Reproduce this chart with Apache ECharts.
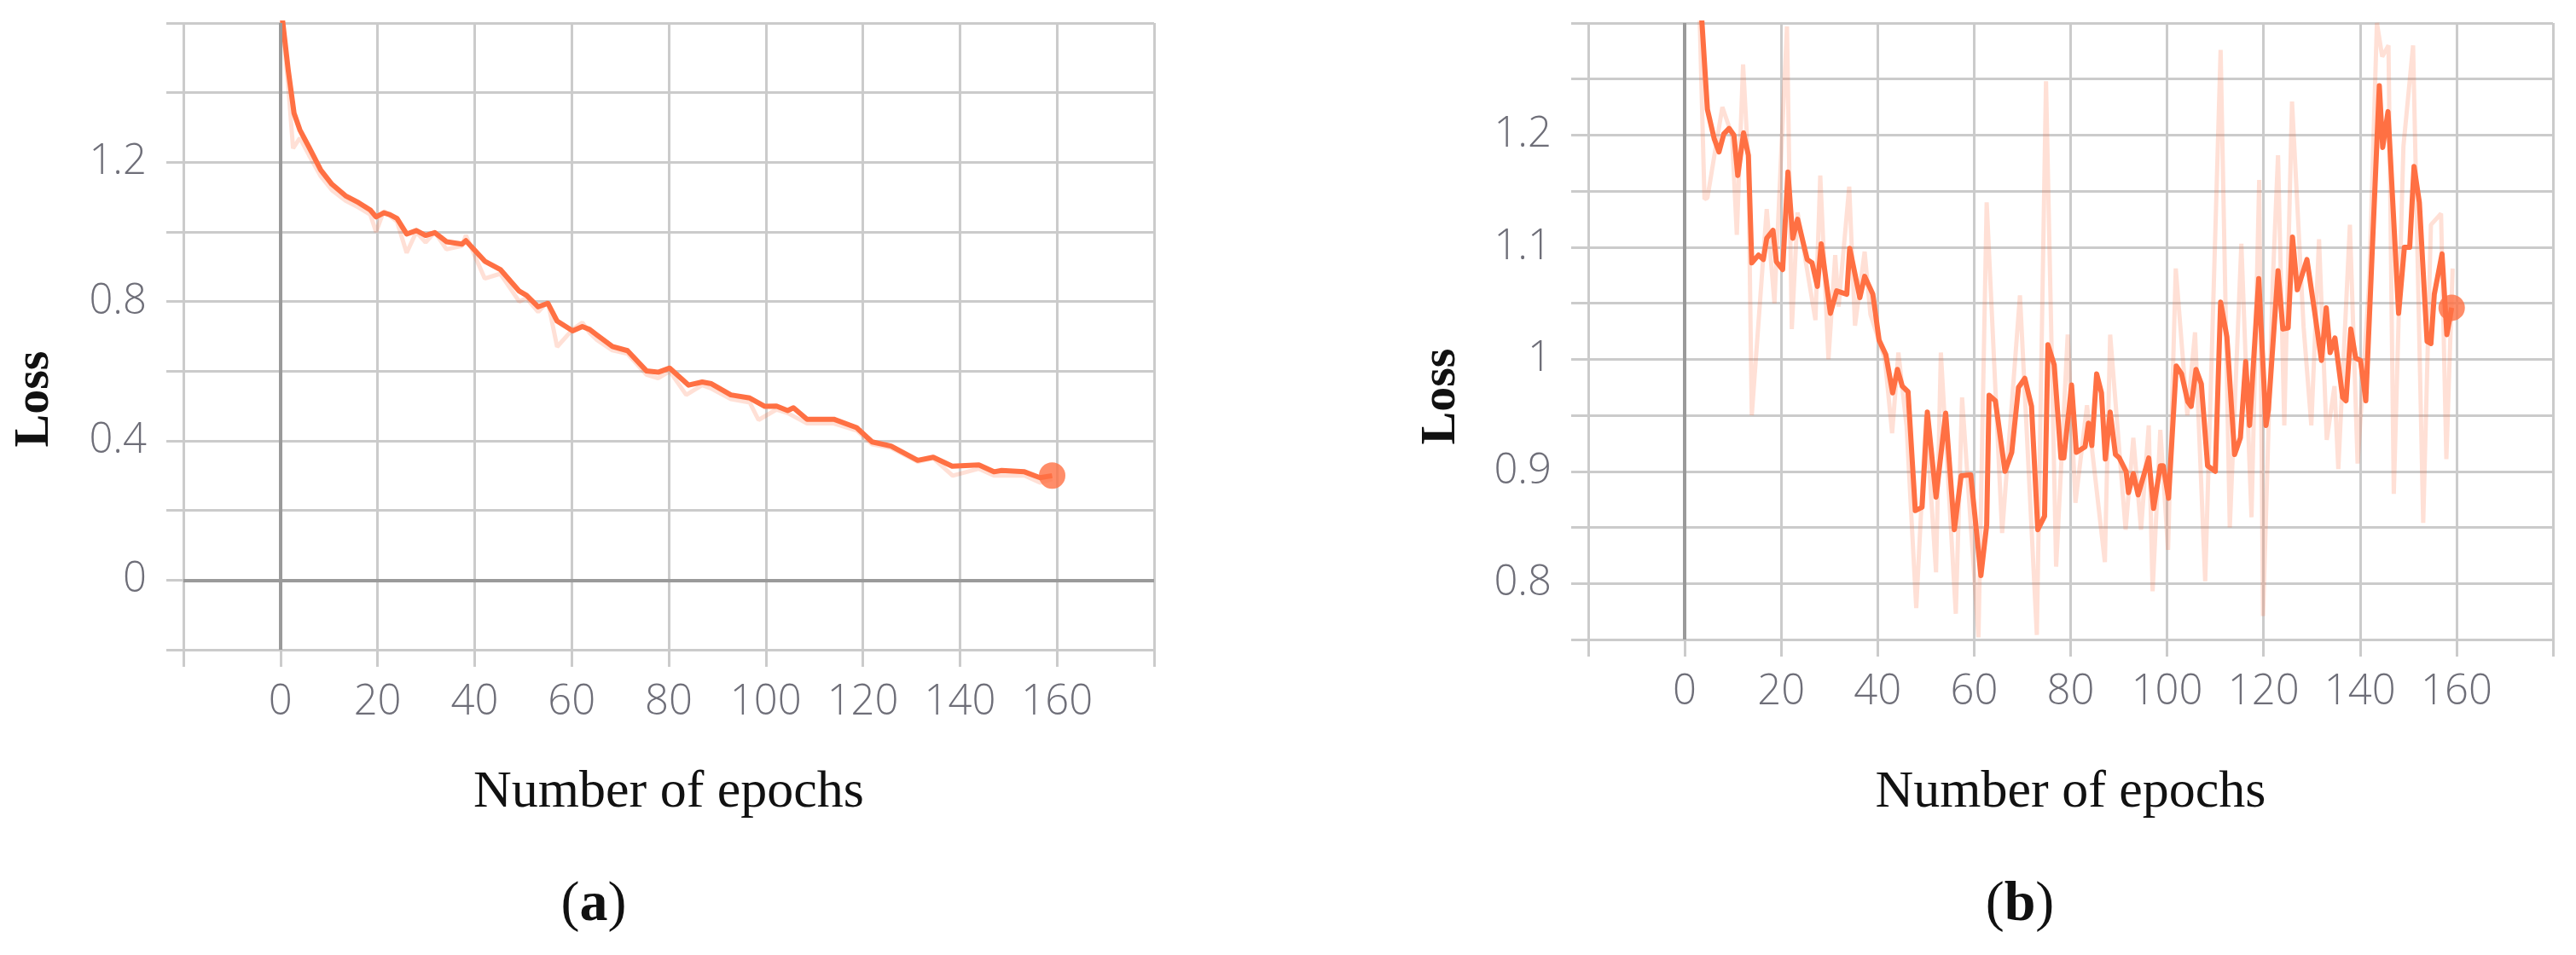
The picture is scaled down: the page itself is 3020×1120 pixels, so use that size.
<!DOCTYPE html>
<html>
<head>
<meta charset="utf-8">
<script src="https://cdn.jsdelivr.net/npm/echarts@6/dist/echarts.min.js"></script>
<style>
html,body{margin:0;padding:0;background:#fff;}
#chart{width:3020px;height:1120px;}
</style>
</head>
<body>
<div id="chart"></div>
<script>
// ---------------- DATA ----------------
// Panel (a): smoothed loss
const leftEpochs = [0,1.6,2.8,4,5.9,8.3,10.6,13.4,16.1,18.5,19.7,21.3,22.5,24,26,28,29.9,31.8,34.2,37.4,38.2,42.1,45.3,49.2,50.7,53.1,55.1,57,60.2,62.2,63.7,65.2,68.4,71.5,75.4,77.8,80.2,84.1,86.9,88.8,92.8,96.7,99.8,102.2,104.5,105.7,108.5,114,118.7,121.9,125.8,131.3,134.5,138.4,143.9,147,148.6,153.3,156.5,159];
const leftLoss = [1.66,1.465,1.341,1.293,1.243,1.178,1.137,1.104,1.084,1.063,1.043,1.055,1.05,1.039,0.994,1.004,0.990,0.998,0.972,0.965,0.975,0.916,0.892,0.830,0.818,0.785,0.795,0.744,0.716,0.728,0.720,0.704,0.671,0.659,0.601,0.597,0.609,0.560,0.569,0.564,0.532,0.523,0.499,0.500,0.487,0.495,0.462,0.462,0.438,0.397,0.385,0.344,0.353,0.327,0.331,0.311,0.315,0.311,0.294,0.30];
// Panel (a): raw (faint) loss
const leftRawEpochs = [0,1.6,2.6,4,5.9,8.3,10.6,13.4,16.1,18.5,19.7,21.3,24,26,28,29.9,31.8,34.2,37.4,38.2,42.1,45.3,49.2,50.7,53.1,55.1,57,60.2,62.2,63.7,65.2,68.4,71.5,75.4,77.8,80.2,83.6,86.9,88.8,92.8,96.7,98.5,102.2,104.5,108.5,114,118.7,121.9,125.8,131.3,134.5,138.5,143.9,147,153.3,156.5,159];
const leftRawLoss = [1.66,1.42,1.24,1.27,1.22,1.16,1.12,1.09,1.07,1.05,1.00,1.06,1.03,0.94,1.00,0.97,1.00,0.95,0.96,0.99,0.866,0.88,0.80,0.81,0.77,0.80,0.67,0.72,0.74,0.71,0.69,0.66,0.65,0.59,0.58,0.60,0.532,0.56,0.55,0.52,0.51,0.46,0.49,0.48,0.45,0.45,0.43,0.39,0.38,0.34,0.35,0.30,0.32,0.30,0.30,0.28,0.29];

// Panel (b): smoothed loss
const rightEpochs = [3,4.7,6.1,7.1,8.1,9.2,10.2,11,12.2,13.2,13.9,15.3,16.3,17,18.3,19,20.3,21.4,22.4,23.4,25.4,26.4,27.5,28.3,30.2,31.5,33.6,34.2,36.3,37.3,39,40.3,41.7,43.1,44.1,45.1,46.3,47.8,49.2,50.3,52.1,54.1,55.9,57.3,59.3,61.4,62.6,63.1,64.4,66.4,67.8,69.2,70.5,71.9,73.2,74.6,75.3,76.6,78,78.6,80.2,81.2,83,83.7,84.4,85.4,86.4,87.2,88.2,89.3,90.1,91.5,92,93,94,96.2,97.2,98.6,99.2,100.3,101.9,103,104.3,105,106,107.1,108.4,110,111.1,112.4,114,115.2,116.3,117.1,119,120.5,121,123,124,125.1,126,127,129,130.6,132,133,133.8,134.8,136.4,137.1,138.1,139.1,140.1,141.2,144,144.7,145.8,148,149.2,150.3,151.2,152.3,153.9,154.7,155.4,157,158,159];
const rightLoss = [1.34,1.223,1.197,1.185,1.201,1.206,1.200,1.164,1.202,1.182,1.086,1.093,1.089,1.108,1.115,1.087,1.080,1.167,1.108,1.125,1.089,1.086,1.065,1.103,1.041,1.061,1.058,1.099,1.055,1.074,1.058,1.017,1.004,0.970,0.991,0.976,0.971,0.865,0.868,0.953,0.877,0.952,0.848,0.896,0.897,0.807,0.852,0.968,0.963,0.900,0.917,0.975,0.983,0.958,0.848,0.860,1.013,0.995,0.912,0.912,0.977,0.917,0.922,0.943,0.923,0.987,0.970,0.911,0.953,0.915,0.912,0.900,0.881,0.898,0.879,0.912,0.867,0.905,0.905,0.876,0.994,0.987,0.962,0.958,0.991,0.978,0.905,0.900,1.051,1.020,0.915,0.930,0.998,0.941,1.072,0.941,0.955,1.079,1.027,1.028,1.109,1.062,1.089,1.042,0.999,1.046,1.006,1.019,0.966,0.963,1.027,1.001,0.999,0.963,1.244,1.189,1.221,1.041,1.100,1.100,1.172,1.140,1.016,1.014,1.058,1.094,1.022,1.046];
// Panel (b): raw (faint) loss
const rightRawEpochs = [3,4.1,4.7,7.8,9.8,10.8,12.1,13.2,13.9,17,18.6,21.2,22.2,23.4,27.1,28.1,29.8,31.2,31.9,34.1,35.3,37.3,38.5,40,41.5,43,44.3,46,48,50,52.1,53.1,56.2,57.5,60.9,62.6,65.8,69.5,73,74.9,77,79.4,81,83.4,87.1,88.2,91.4,93,94.6,96.2,97,98.6,100.2,101.8,104.2,105.8,107.9,111.1,113,115.4,117.5,119.1,119.9,121.9,123,124.3,125.9,128.3,129.9,131.5,133.1,134.7,135.5,137.9,139.5,141.9,143.5,144.6,145.9,147,149,151,153.1,154.7,156.8,157.9,159.2];
const rightRawLoss = [1.32,1.143,1.144,1.225,1.2,1.111,1.263,1.174,0.95,1.134,1.05,1.297,1.027,1.131,1.035,1.164,1.0,1.093,1.047,1.154,1.03,1.096,1.04,1.02,1.0,0.934,1.006,0.94,0.778,0.95,0.81,1.006,0.773,0.966,0.752,1.14,0.845,1.057,0.754,1.248,0.815,1.022,0.872,0.959,0.819,1.022,0.848,0.93,0.848,0.941,0.793,0.937,0.83,1.081,0.95,1.024,0.802,1.276,0.85,1.103,0.859,1.16,0.771,1.068,1.182,0.941,1.23,1.029,0.941,1.107,0.928,0.976,0.902,1.12,0.907,1.068,1.30,1.27,1.28,0.88,1.19,1.28,0.854,1.12,1.13,0.911,1.081];

// Tick labels shown
const xTickLabels = ['0','20','40','60','80','100','120','140','160'];
const leftYTickLabels = ['0','0.4','0.8','1.2'];
const rightYTickLabels = ['0.8','0.9','1','1.1','1.2'];

const xAxisTitle = 'Number of epochs';
const yAxisTitle = 'Loss';
const panelLetters = ['a','b'];

// ---------------- BUILD ----------------
const zip = (xs, ys) => xs.map((x, i) => [x, ys[i]]);
const ORANGE = '#ff7043';
const GRID_C = '#cbcbcb';
const ZERO_C = '#9a9a9a';

function fmt(list) {
  return function (v) {
    const s = String(Math.round(v * 100) / 100);
    return list.indexOf(s) >= 0 ? s : '';
  };
}

function xAxisCfg(gi, nameGap) {
  return {
    gridIndex: gi, type: 'value', min: -20, max: 180, interval: 20,
    axisLine: { show: false, onZero: false },
    axisTick: { show: true, length: 20, lineStyle: { color: GRID_C, width: 3 } },
    splitLine: { show: true, lineStyle: { color: GRID_C, width: 3 } },
    axisLabel: { margin: 38, fontSize: 49, fontFamily: 'Open Sans', fontWeight: 300, color: '#6e6e78', formatter: fmt(xTickLabels), showMinLabel: true, showMaxLabel: true },
    name: xAxisTitle, nameLocation: 'middle', nameGap: nameGap,
    nameTextStyle: { fontFamily: 'Liberation Serif', fontSize: 62, color: '#111' }
  };
}
function yAxisCfg(gi, min, max, interval, labels) {
  return {
    gridIndex: gi, type: 'value', min: min, max: max, interval: interval,
    axisLine: { show: false, onZero: false },
    axisTick: { show: true, length: 20, lineStyle: { color: GRID_C, width: 3 } },
    splitLine: { show: true, lineStyle: { color: GRID_C, width: 3 } },
    axisLabel: { margin: 43, fontSize: 49, fontFamily: 'Open Sans', fontWeight: 300, color: '#6e6e78', formatter: fmt(labels), showMinLabel: true, showMaxLabel: true }
  };
}
function zeroLines(data) {
  return {
    silent: true, symbol: ['none', 'none'], animation: false,
    label: { show: false },
    lineStyle: { color: ZERO_C, width: 4, type: 'solid' },
    emphasis: { disabled: true },
    data: data
  };
}
function panelSeries(gi, rawX, rawY, sx, sy, zeroData) {
  const smooth = zip(sx, sy);
  return [
    { type: 'line', xAxisIndex: gi, yAxisIndex: gi, data: zip(rawX, rawY), showSymbol: false, symbol: 'none',
      lineStyle: { color: 'rgba(255,112,67,0.22)', width: 5 }, silent: true, z: 2, animation: false,
      markLine: zeroLines(zeroData) },
    { type: 'line', xAxisIndex: gi, yAxisIndex: gi, data: smooth, showSymbol: false, symbol: 'none',
      lineStyle: { color: ORANGE, width: 6, join: 'round' }, silent: true, z: 3, animation: false },
    { type: 'scatter', xAxisIndex: gi, yAxisIndex: gi, data: [smooth[smooth.length - 1]], symbolSize: 31,
      itemStyle: { color: ORANGE }, silent: true, z: 4, animation: false }
  ];
}

const letterGraphics = panelLetters.map((l, i) => ({
  type: 'text', x: i === 0 ? 696 : 2368, y: 1062, silent: true,
  style: {
    text: '{p|(}{b|' + l + '}{p|)}', align: 'center', verticalAlign: 'middle',
    rich: {
      p: { fontFamily: 'Liberation Serif', fontSize: 66, fill: '#111' },
      b: { fontFamily: 'Liberation Serif', fontSize: 66, fontWeight: 'bold', fill: '#111' }
    }
  }
}));
const yTitleGraphics = [[41, 468], [1690, 465]].map(p => ({
  type: 'text', x: p[0], y: p[1], rotation: Math.PI / 2, silent: true,
  style: {
    text: yAxisTitle, align: 'center', verticalAlign: 'middle',
    fontFamily: 'Liberation Serif', fontSize: 58, fontWeight: 'bold', fill: '#111'
  }
}));

const chart = echarts.init(document.getElementById('chart'), null, { renderer: 'canvas' });
chart.setOption({
  backgroundColor: '#ffffff',
  animation: false,
  grid: [
    { left: 215, top: 27, width: 1138, height: 735 },
    { left: 1862, top: 27, width: 1131, height: 723 }
  ],
  xAxis: [xAxisCfg(0, 137), xAxisCfg(1, 149)],
  yAxis: [
    yAxisCfg(0, -0.2, 1.6, 0.2, leftYTickLabels),
    yAxisCfg(1, 0.75, 1.3, 0.05, rightYTickLabels)
  ],
  series: [].concat(
    panelSeries(0, leftRawEpochs, leftRawLoss, leftEpochs, leftLoss, [{ xAxis: 0 }, { yAxis: 0 }]),
    panelSeries(1, rightRawEpochs, rightRawLoss, rightEpochs, rightLoss, [{ xAxis: 0 }])
  ),
  graphic: letterGraphics.concat(yTitleGraphics)
});
</script>
</body>
</html>
